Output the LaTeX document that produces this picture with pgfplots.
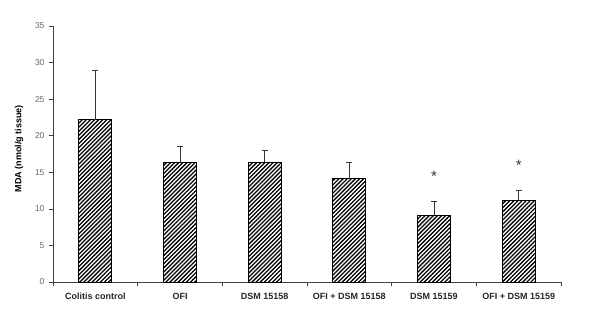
\documentclass[border=0pt]{standalone}
\usepackage{fontspec}
\setmainfont{Liberation Sans}
\usepackage{pgfplots}
\pgfplotsset{compat=1.18}
\usetikzlibrary{patterns.meta}
\begin{document}
\begin{tikzpicture}
\path[use as bounding box] (-53pt,-43pt) rectangle (547pt,282pt);
\begin{axis}[
  at={(0,0)}, anchor=south west,
  scale only axis, width=508pt, height=256pt,
  xmin=-0.5, xmax=5.5, ymin=0, ymax=35,
  axis x line*=bottom, axis y line*=left,
  axis line style={black!75, line width=0.6pt},
  xtick={0,1,2,3,4,5},
  xticklabels={Colitis control, OFI, DSM 15158, OFI + DSM 15158, DSM 15159, OFI + DSM 15159},
  major x tick style={draw=none},
  minor xtick={-0.5,0.5,1.5,2.5,3.5,4.5,5.5},
  minor x tick style={black!75, line width=0.6pt},
  minor tick length=4pt,
  xtick align=outside,
  xticklabel style={font=\fontsize{9}{10}\selectfont\bfseries, yshift=-3.5pt, text=black!85},
  ytick={0,5,...,35},
  ytick align=outside, major tick length=4pt,
  y tick style={black!75, line width=0.6pt},
  yticklabel style={font=\fontsize{8.5}{10}\selectfont, text=black!60, xshift=-1pt},
  /pgf/number format/assume math mode=true,
  ylabel={MDA (nmol/g tissue)},
  ylabel style={font=\fontsize{9}{10}\selectfont\bfseries, at={(axis description cs:-0.067,0.52)}, anchor=center},
  clip=false,
]
\addplot[ybar, bar width=33pt, draw=black, line width=0.8pt,
  pattern={Lines[angle=45, distance=2.9pt, line width=1.3pt]},
  error bars/.cd, y dir=plus, y explicit,
  error bar style={black!80, line width=0.6pt},
  error mark options={rotate=90, mark size=3pt, black!80, line width=0.6pt}]
  coordinates {
  (0,22.2) +- (0,6.8)
  (1,16.4) +- (0,2.2)
  (2,16.4) +- (0,1.6)
  (3,14.1) +- (0,2.3)
  (4,9.1) +- (0,1.9)
  (5,11.2) +- (0,1.3)
  };
\node[font=\fontsize{15}{15}\selectfont, text=black!80] at (axis cs:4,14.4) {*};
\node[font=\fontsize{15}{15}\selectfont, text=black!80] at (axis cs:5,16.0) {*};
\end{axis}
\end{tikzpicture}
\end{document}
